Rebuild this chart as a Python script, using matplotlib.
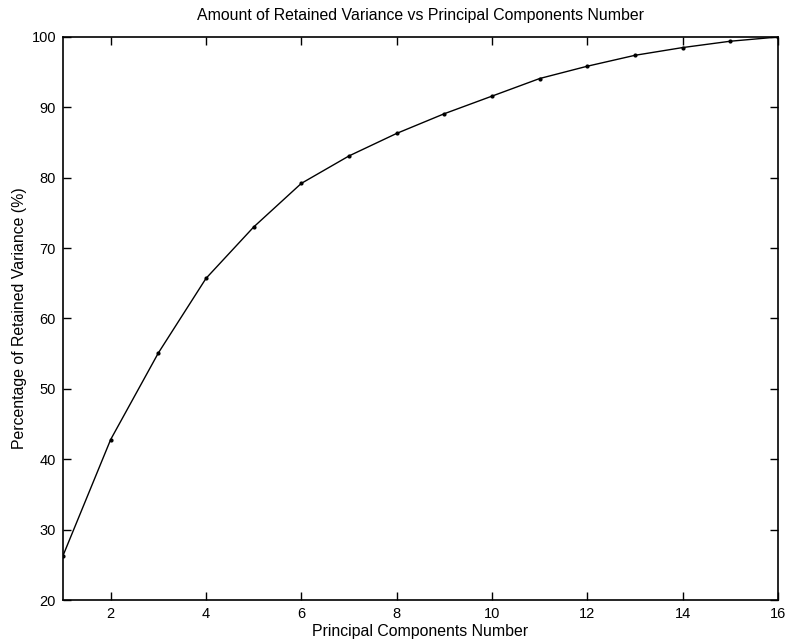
import numpy as np
import matplotlib.pyplot as plt

plt.rcParams['font.family'] = ['Liberation Sans', 'DejaVu Sans']

components = np.arange(1, 17)
retained = [26.3, 42.8, 55.1, 65.7, 73.0, 79.2, 83.1, 86.3,
            89.1, 91.6, 94.1, 95.85, 97.4, 98.5, 99.4, 100.0]

fig = plt.figure(figsize=(7.87, 6.44), dpi=100)
ax = fig.add_axes([63/787, 1 - 600/644, (778 - 63)/787, (600 - 37)/644])

ax.plot(components, retained, color='k', lw=1.0, marker='.', markersize=4)

ax.set_xlim(1, 16)
ax.set_ylim(20, 100)
ax.set_xticks(np.arange(2, 17, 2))
ax.set_yticks(np.arange(20, 101, 10))
ax.tick_params(direction='in', length=6, width=1, labelsize=10.5,
               top=True, right=True, pad=5)
for s in ax.spines.values():
    s.set_linewidth(1.2)

ax.set_title('Amount of Retained Variance vs Principal Components Number', fontsize=11.4, pad=12)
ax.set_xlabel('Principal Components Number', fontsize=11.4, labelpad=2)
ax.set_ylabel('Percentage of Retained Variance (%)', fontsize=11.4, labelpad=3)

fig.savefig('out.png', dpi=100)
